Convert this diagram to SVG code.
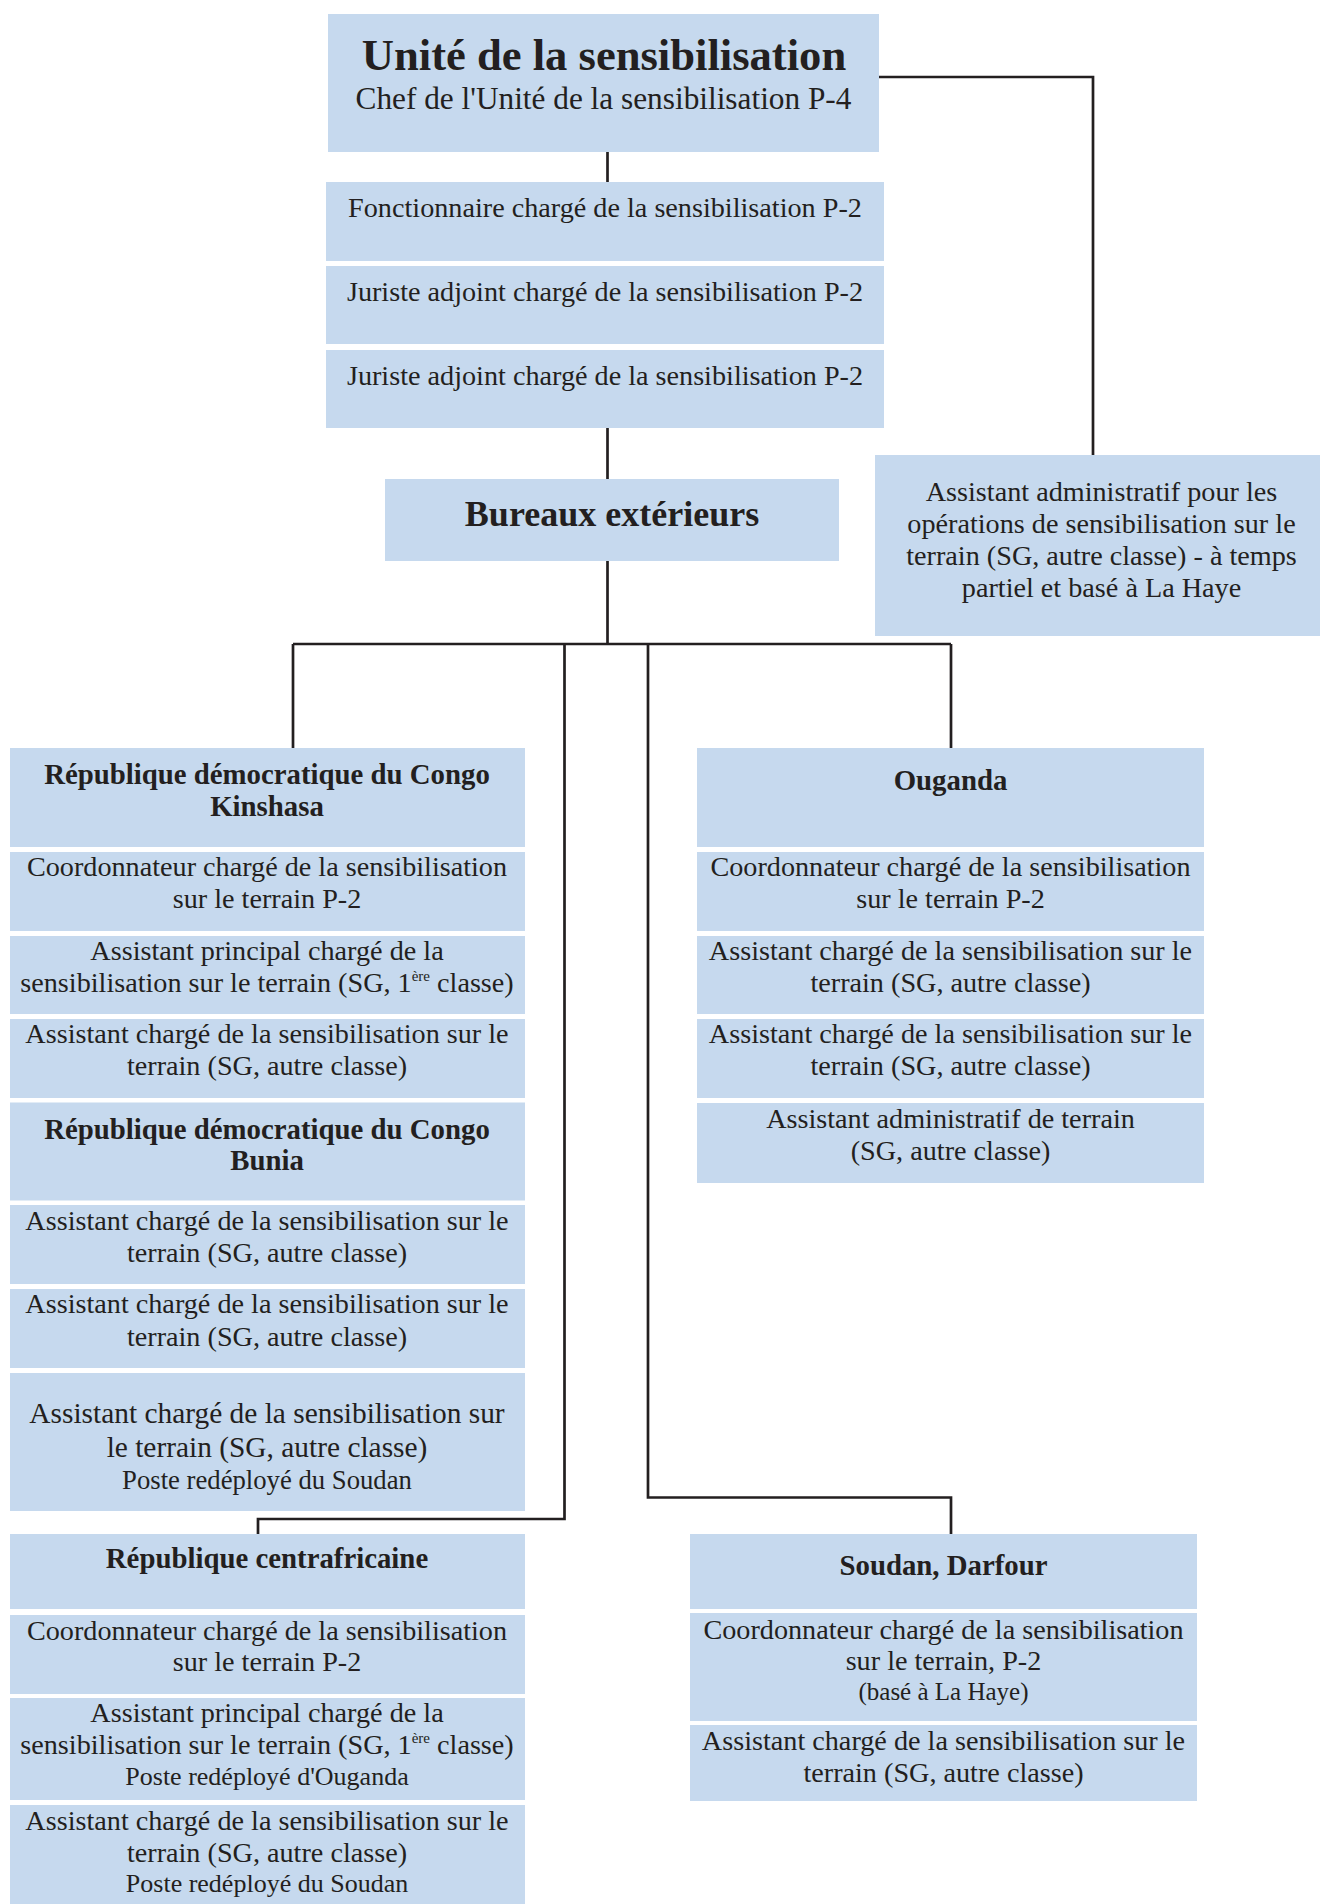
<svg xmlns="http://www.w3.org/2000/svg" width="1320" height="1904" viewBox="0 0 1320 1904">
<style>
.box{fill:#c6d9ee}
text{font-family:"Liberation Serif","Times New Roman",serif;fill:#231f20;text-anchor:middle}
.t{font-size:28.2px}
.tl{font-size:29.4px}
.h{font-size:28.8px;font-weight:bold}
.s{font-size:26px}
.sl{font-size:26.7px}
.b{font-size:25px}
.sup{font-size:15px}
.conn{fill:none;stroke:#231f20;stroke-width:2.7}
</style>
<rect width="1320" height="1904" fill="#ffffff"/>
<g id="connectors" class="conn">
<path d="M607.5 152V182"/>
<path d="M607.5 428V479"/>
<path d="M879 77H1093V455"/>
<path d="M607.5 561V644"/>
<path d="M293 644H951"/>
<path d="M293 644V748"/>
<path d="M951 644V748"/>
<path d="M564.5 644V1519H258V1534"/>
<path d="M648 644V1497.5H951V1534"/>
</g>
<g id="unite">
<rect class="box" x="328" y="14" width="551" height="138"/>
<text x="604" y="70" style="font-size:44.6px;font-weight:bold">Unité de la sensibilisation</text>
<text x="603.5" y="109" style="font-size:31.3px">Chef de l'Unité de la sensibilisation P-4</text>
</g>
<g id="fonctionnaire">
<rect class="box" x="326" y="182" width="558" height="79"/>
<text class="t" x="605" y="217">Fonctionnaire chargé de la sensibilisation P-2</text>
</g>
<g id="juriste1">
<rect class="box" x="326" y="266" width="558" height="78"/>
<text class="t" x="605" y="301">Juriste adjoint chargé de la sensibilisation P-2</text>
</g>
<g id="juriste2">
<rect class="box" x="326" y="350" width="558" height="78"/>
<text class="t" x="605" y="385">Juriste adjoint chargé de la sensibilisation P-2</text>
</g>
<g id="bureaux">
<rect class="box" x="385" y="479" width="454" height="82"/>
<text x="612" y="526" style="font-size:36px;font-weight:bold">Bureaux extérieurs</text>
</g>
<g id="admin-haye">
<rect class="box" x="875" y="455" width="445" height="181"/>
<text class="t" x="1101.5" y="501">Assistant administratif pour les</text>
<text class="t" x="1101.5" y="533">opérations de sensibilisation sur le</text>
<text class="t" x="1101.5" y="565">terrain (SG, autre classe) - à temps</text>
<text class="t" x="1101.5" y="597">partiel et basé à La Haye</text>
</g>
<g id="rdc-kinshasa">
<rect class="box" x="10" y="748" width="515" height="99"/>
<text class="h" x="267" y="784">République démocratique du Congo</text>
<text class="h" x="267" y="816">Kinshasa</text>
</g>
<g id="kin-coord">
<rect class="box" x="10" y="852" width="515" height="79"/>
<text class="t" x="267" y="876">Coordonnateur chargé de la sensibilisation</text>
<text class="t" x="267" y="907.5">sur le terrain P-2</text>
</g>
<g id="kin-principal">
<rect class="box" x="10" y="936" width="515" height="78"/>
<text class="t" x="267" y="959.5">Assistant principal chargé de la</text>
<text class="t" x="267" y="991.5">sensibilisation sur le terrain (SG, 1<tspan class="sup" dy="-11">ère</tspan><tspan dy="11"> classe)</tspan></text>
</g>
<g id="kin-assistant">
<rect class="box" x="10" y="1019" width="515" height="79"/>
<text class="t" x="267" y="1043">Assistant chargé de la sensibilisation sur le</text>
<text class="t" x="267" y="1075">terrain (SG, autre classe)</text>
</g>
<g id="rdc-bunia">
<rect class="box" x="10" y="1102.5" width="515" height="98"/>
<text class="h" x="267" y="1139">République démocratique du Congo</text>
<text class="h" x="267" y="1170">Bunia</text>
</g>
<g id="bun-assistant1">
<rect class="box" x="10" y="1205" width="515" height="79"/>
<text class="t" x="267" y="1229.5">Assistant chargé de la sensibilisation sur le</text>
<text class="t" x="267" y="1261.5">terrain (SG, autre classe)</text>
</g>
<g id="bun-assistant2">
<rect class="box" x="10" y="1289" width="515" height="79"/>
<text class="t" x="267" y="1313">Assistant chargé de la sensibilisation sur le</text>
<text class="t" x="267" y="1345.5">terrain (SG, autre classe)</text>
</g>
<g id="bun-assistant3">
<rect class="box" x="10" y="1373" width="515" height="138"/>
<text class="tl" x="267" y="1423">Assistant chargé de la sensibilisation sur</text>
<text class="tl" x="267" y="1456.5">le terrain (SG, autre classe)</text>
<text class="sl" x="267" y="1488.5">Poste redéployé du Soudan</text>
</g>
<g id="rca">
<rect class="box" x="10" y="1534" width="515" height="75"/>
<text class="h" x="267" y="1568">République centrafricaine</text>
</g>
<g id="rca-coord">
<rect class="box" x="10" y="1615" width="515" height="79"/>
<text class="t" x="267" y="1639.5">Coordonnateur chargé de la sensibilisation</text>
<text class="t" x="267" y="1670.5">sur le terrain P-2</text>
</g>
<g id="rca-principal">
<rect class="box" x="10" y="1698" width="515" height="102"/>
<text class="t" x="267" y="1721.5">Assistant principal chargé de la</text>
<text class="t" x="267" y="1754">sensibilisation sur le terrain (SG, 1<tspan class="sup" dy="-11">ère</tspan><tspan dy="11"> classe)</tspan></text>
<text class="s" x="267" y="1785">Poste redéployé d'Ouganda</text>
</g>
<g id="rca-assistant">
<rect class="box" x="10" y="1805" width="515" height="99"/>
<text class="t" x="267" y="1830">Assistant chargé de la sensibilisation sur le</text>
<text class="t" x="267" y="1861.5">terrain (SG, autre classe)</text>
<text class="s" x="267" y="1891.5">Poste redéployé du Soudan</text>
</g>
<g id="ouganda">
<rect class="box" x="697" y="748" width="507" height="99"/>
<text class="h" x="950.5" y="789.5">Ouganda</text>
</g>
<g id="oug-coord">
<rect class="box" x="697" y="852" width="507" height="79"/>
<text class="t" x="950.5" y="876">Coordonnateur chargé de la sensibilisation</text>
<text class="t" x="950.5" y="907.5">sur le terrain P-2</text>
</g>
<g id="oug-assistant1">
<rect class="box" x="697" y="936" width="507" height="78"/>
<text class="t" x="950.5" y="960">Assistant chargé de la sensibilisation sur le</text>
<text class="t" x="950.5" y="991.5">terrain (SG, autre classe)</text>
</g>
<g id="oug-assistant2">
<rect class="box" x="697" y="1019" width="507" height="79"/>
<text class="t" x="950.5" y="1043">Assistant chargé de la sensibilisation sur le</text>
<text class="t" x="950.5" y="1075">terrain (SG, autre classe)</text>
</g>
<g id="oug-admin">
<rect class="box" x="697" y="1103" width="507" height="80"/>
<text class="t" x="950.5" y="1127.5">Assistant administratif de terrain</text>
<text class="t" x="950.5" y="1159.5">(SG, autre classe)</text>
</g>
<g id="soudan">
<rect class="box" x="690" y="1534" width="507" height="75"/>
<text class="h" x="943.5" y="1575">Soudan, Darfour</text>
</g>
<g id="sou-coord">
<rect class="box" x="690" y="1613" width="507" height="108"/>
<text class="t" x="943.5" y="1638.5">Coordonnateur chargé de la sensibilisation</text>
<text class="t" x="943.5" y="1669.5">sur le terrain, P-2</text>
<text class="b" x="943.5" y="1700">(basé à La Haye)</text>
</g>
<g id="sou-assistant">
<rect class="box" x="690" y="1725" width="507" height="76"/>
<text class="t" x="943.5" y="1750">Assistant chargé de la sensibilisation sur le</text>
<text class="t" x="943.5" y="1781.5">terrain (SG, autre classe)</text>
</g>
</svg>
